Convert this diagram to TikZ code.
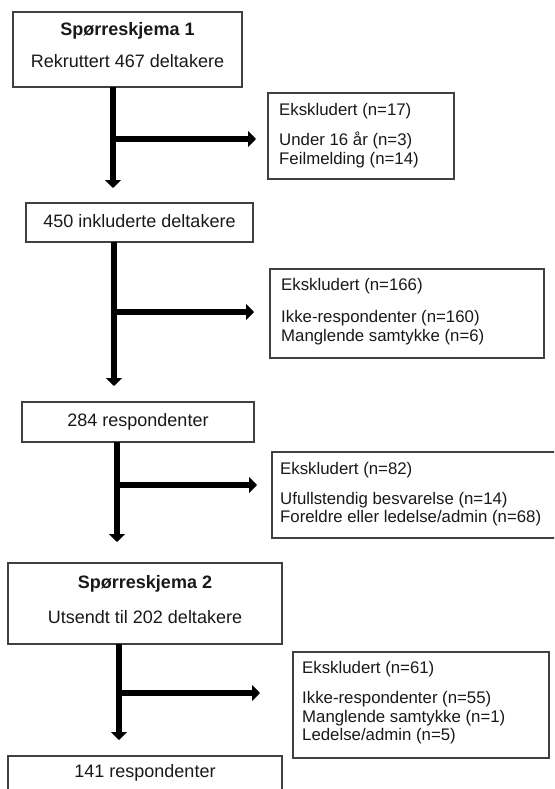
\documentclass[tikz,border=0pt]{standalone}
\usepackage{fontspec}
\setmainfont{Liberation Sans}
\usetikzlibrary{arrows.meta}
\begin{document}
\begin{tikzpicture}[x=1pt,y=-1pt,
  boxframe/.style={draw=black!75,line width=1.1pt,fill=white,inner sep=0pt},
  hold/.style={draw=none,inner sep=0pt},
  maintxt/.style={inner sep=0pt,anchor=base,text=black!90,font=\fontsize{18}{20}\selectfont},
  titletxt/.style={maintxt,font=\fontsize{18}{20}\selectfont\bfseries},
  exctxt/.style={inner sep=0pt,anchor=base west,text=black!90,font=\fontsize{16.8}{19}\selectfont},
  flow/.style={line width=6.5pt,-{Triangle[width=16pt,length=8pt]}}]
\useasboundingbox (0,0) rectangle (554,789);
\clip (0,0) rectangle (554,789);
% main boxes
\draw[boxframe] (13,12) rectangle (242,87);
\node[hold,minimum width=229pt,minimum height=75pt] (b1) at (127.5,49.5) {};
\node[titletxt] (t1) at (127.5,36) {Spørreskjema 1};
\node[maintxt] (t1b) at (127.5,68) {Rekruttert 467 deltakere};

\draw[boxframe] (26,203) rectangle (253,242);
\node[hold,minimum width=227pt,minimum height=39pt] (b2) at (139.5,222.5) {};
\node[maintxt] (t2) at (139.5,227) {450 inkluderte deltakere};

\draw[boxframe] (22,402) rectangle (254,442);
\node[hold,minimum width=232pt,minimum height=40pt] (b3) at (138,422) {};
\node[maintxt] (t3) at (138,426.5) {284 respondenter};

\draw[boxframe] (8,563) rectangle (282,644);
\node[hold,minimum width=274pt,minimum height=81pt] (b4) at (145,603.5) {};
\node[titletxt] (t4) at (145,588) {Spørreskjema 2};
\node[maintxt] (t4b) at (145,623) {Utsendt til 202 deltakere};

\draw[boxframe] (8,756) rectangle (282,810);
\node[hold,minimum width=274pt,minimum height=54pt] (b5) at (145,783) {};
\node[maintxt] (t5) at (145,777.5) {141 respondenter};

% exclusion boxes
\draw[boxframe] (268,93) rectangle (454,179);
\node[hold,minimum width=186pt,minimum height=86pt] (e1) at (361,136) {};
\node[exctxt] (e1a) at (279,116) {Ekskludert (n=17)};
\node[exctxt] (e1b) at (279,146) {Under 16 år (n=3)};
\node[exctxt] (e1c) at (279,164) {Feilmelding (n=14)};

\draw[boxframe] (270,269) rectangle (544,358);
\node[hold,minimum width=274pt,minimum height=89pt] (e2) at (407,313.5) {};
\node[exctxt] (e2a) at (281,290) {Ekskludert (n=166)};
\node[exctxt] (e2b) at (281,322) {Ikke-respondenter (n=160)};
\node[exctxt] (e2c) at (281,341) {Manglende samtykke (n=6)};

\draw[boxframe] (272,452) rectangle (570,538);
\node[hold,minimum width=298pt,minimum height=86pt] (e3) at (421,495) {};
\node[exctxt] (e3a) at (280,474) {Ekskludert (n=82)};
\node[exctxt] (e3b) at (280,504) {Ufullstendig besvarelse (n=14)};
\node[exctxt] (e3c) at (280,522) {Foreldre eller ledelse/admin (n=68)};

\draw[boxframe] (293,652) rectangle (549,758);
\node[hold,minimum width=256pt,minimum height=106pt] (e4) at (421,705) {};
\node[exctxt] (e4a) at (302,673) {Ekskludert (n=61)};
\node[exctxt] (e4b) at (302,703) {Ikke-respondenter (n=55)};
\node[exctxt] (e4c) at (302,722) {Manglende samtykke (n=1)};
\node[exctxt] (e4d) at (302,740) {Ledelse/admin (n=5)};

% connectors
\coordinate (s1) at (113,87);  \coordinate (d1) at (113,188); \coordinate (j1) at (113,139); \coordinate (h1) at (256,139);
\coordinate (s2) at (114,242); \coordinate (d2) at (114,386); \coordinate (j2) at (114,312); \coordinate (h2) at (254,312);
\coordinate (s3) at (117,442); \coordinate (d3) at (117,542); \coordinate (j3) at (117,485); \coordinate (h3) at (257,485);
\coordinate (s4) at (119,644); \coordinate (d4) at (119,740); \coordinate (j4) at (119,693); \coordinate (h4) at (260,693);
\foreach \i in {1,2,3,4}{
  \draw[flow] (s\i) -- (d\i);
  \draw[flow] ([xshift=-3pt]j\i) -- (h\i);
}
\end{tikzpicture}
\end{document}
